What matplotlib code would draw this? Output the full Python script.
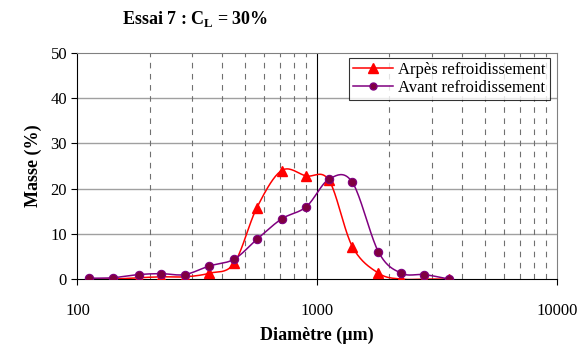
import matplotlib.pyplot as plt
import numpy as np

# sieve openings (um) and retained mass (%)
diametre = [112, 140, 180, 224, 280, 355, 450, 560, 710, 900, 1120, 1400, 1800, 2240, 2800, 3550]
apres = [0.0, 0.0, 0.3, 0.5, 0.5, 1.3, 3.5, 15.8, 24.0, 22.8, 21.8, 7.2, 1.3, 0.0, 0.0, 0.0]
avant = [0.2, 0.3, 1.0, 1.2, 1.0, 2.9, 4.4, 8.8, 13.3, 16.0, 22.1, 21.4, 6.0, 1.3, 1.0, 0.0]


def smooth(x, y, n=20):
    # catmull-rom through the points, in log(x)
    lx = np.log10(np.asarray(x, float))
    y = np.asarray(y, float)
    px = np.concatenate([[lx[0]], lx, [lx[-1]]])
    py = np.concatenate([[y[0]], y, [y[-1]]])
    xs, ys = [], []
    t = np.linspace(0, 1, n, endpoint=False)
    for i in range(1, len(px) - 2):
        p0, p1, p2, p3 = px[i-1], px[i], px[i+1], px[i+2]
        q0, q1, q2, q3 = py[i-1], py[i], py[i+1], py[i+2]
        xs.append(0.5*((2*p1) + (-p0+p2)*t + (2*p0-5*p1+4*p2-p3)*t**2 + (-p0+3*p1-3*p2+p3)*t**3))
        ys.append(0.5*((2*q1) + (-q0+q2)*t + (2*q0-5*q1+4*q2-q3)*t**2 + (-q0+3*q1-3*q2+q3)*t**3))
    xs.append([lx[-1]]); ys.append([y[-1]])
    return 10**np.concatenate(xs), np.concatenate(ys)


plt.rcParams['font.family'] = 'Liberation Serif'
plt.rcParams['mathtext.fontset'] = 'custom'
plt.rcParams['mathtext.rm'] = 'Liberation Serif'
plt.rcParams['mathtext.bf'] = 'Liberation Serif:bold'
fig = plt.figure(figsize=(5.87, 3.48), dpi=100)
ax = fig.add_axes([0.132, 0.198, 0.817, 0.650])

red = '#ff0000'
purple = '#800080'

sx, sy = smooth(diametre, apres)
ax.plot(sx, sy, color=red, lw=1.1, zorder=3)
ax.plot(diametre, apres, ls='none', marker='^', ms=7, color=red, zorder=4)
ax.plot([], [], color=red, lw=1.1, marker='^', ms=6.5, label='Arpès refroidissement')

sx, sy = smooth(diametre, avant)
ax.plot(sx, sy, color=purple, lw=1.1, zorder=3)
ax.plot(diametre, avant, ls='none', marker='o', ms=6, mfc='#800040', mec=purple, mew=0.8, zorder=4)
ax.plot([], [], color=purple, lw=1.1, marker='o', ms=5, mfc='#800040', mec=purple, label='Avant refroidissement')

ax.set_xscale('log')
ax.set_xlim(100, 10000)
ax.set_ylim(0, 50)
ax.set_yticks([0, 10, 20, 30, 40, 50])
ax.set_xticks([100, 1000, 10000])
ax.set_xticklabels(['100', '1000', '10000'])

for v in [10, 20, 30, 40]:
    ax.axhline(v, color='#a0a0a0', lw=1.0, zorder=1)
ax.axvline(1000, color='black', lw=0.8, zorder=1)
for d in range(2, 10):
    ax.axvline(d*100, color='#707070', lw=0.8, ls=(0, (5, 5)), zorder=1)
    ax.axvline(d*1000, color='#707070', lw=0.8, ls=(0, (5, 5)), zorder=1)

ax.minorticks_off()
ax.tick_params(axis='both', labelsize=12, direction='out', length=4, width=0.8)
ax.tick_params(axis='x', pad=13)
for s in ax.spines.values():
    s.set_color('#808080')
    s.set_linewidth(0.8)
ax.spines['bottom'].set_color('black')
ax.spines['left'].set_color('black')

ax.set_xlabel('Diamètre (µm)', fontsize=13, fontweight='bold', labelpad=6)
ax.set_ylabel('Masse (%)', fontsize=13, fontweight='bold', labelpad=6)

fig.text(0.208, 0.945, r'Essai 7 : C$_\mathbf{L}$ = 30%', fontsize=13, fontweight='bold', va='center')

leg = ax.legend(loc='upper left', bbox_to_anchor=(0.566, 0.978), fontsize=12, frameon=True,
                fancybox=False, borderpad=0.25, handlelength=2.4, handletextpad=0.3,
                labelspacing=0.1, borderaxespad=0)
leg.get_frame().set_edgecolor('black')
leg.get_frame().set_linewidth(0.8)

fig.savefig('out.png', dpi=100)
